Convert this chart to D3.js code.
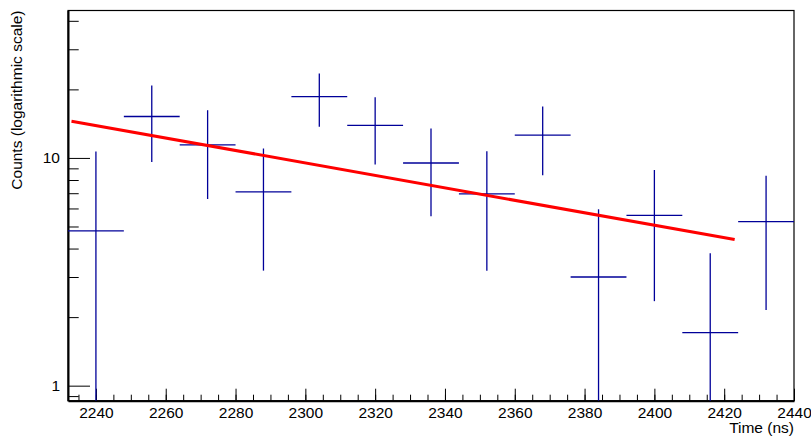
<!DOCTYPE html>
<html>
<head>
<meta charset="utf-8">
<script src="https://cdn.jsdelivr.net/npm/d3@7"></script>
<style>
body { margin: 0; background: #fff; }
text { font-family: "Liberation Sans", Arial, sans-serif; }
</style>
</head>
<body>
<div id="chart"></div>
<script>
// histogram bins (ns) and counts with errors
var binCenters = [2240, 2256, 2272, 2288, 2304, 2320, 2336, 2352, 2368, 2384, 2400, 2416, 2432];
var binWidth = 16;
var counts = [4.78, 15.2, 11.4, 7.1, 18.6, 13.9, 9.5, 6.95, 12.6, 3.0, 5.6, 1.71, 5.25];
var errors = [5.88, 5.6, 4.8, 3.9, 4.9, 4.55, 3.95, 3.75, 4.2, 2.95, 3.25, 2.1, 3.1];

// exponential fit, end points
var fitX = [2233, 2423];
var fitY = [14.5, 4.38];

// ticks
var xMajorTicks = [2240, 2260, 2280, 2300, 2320, 2340, 2360, 2380, 2400, 2420, 2440];
var yMajorTicks = [1, 10];
var yMinorTicks = [0.9, 2, 3, 4, 5, 6, 7, 8, 9, 20, 30, 40];

var W = 811, H = 439;
var frame = { left: 68, right: 794, top: 10.5, bottom: 400.7 };

var svg = d3.select("#chart")
    .append("svg")
    .attr("width", W)
    .attr("height", H);

var x = d3.scaleLinear()
    .domain([2232, 2440])
    .range([frame.left, frame.right]);

var y = d3.scaleLog()
    .domain([0.859, 44.4])
    .range([frame.bottom, frame.top]);

// frame
svg.append("rect")
    .attr("x", frame.left)
    .attr("y", frame.top)
    .attr("width", frame.right - frame.left)
    .attr("height", frame.bottom - frame.top)
    .attr("fill", "none")
    .attr("stroke", "#000")
    .attr("stroke-width", 1.2);

// x axis: minor then major
svg.append("g")
    .attr("transform", "translate(0," + frame.bottom + ")")
    .call(d3.axisBottom(x).tickValues(d3.range(2235, 2441, 5)).tickSize(-6).tickSizeOuter(0).tickFormat(""))
    .call(function(g) { g.select(".domain").remove(); });

var xAxis = svg.append("g")
    .attr("transform", "translate(0," + frame.bottom + ")")
    .call(d3.axisBottom(x).tickValues(xMajorTicks).tickSize(-12).tickSizeOuter(0).tickPadding(6).tickFormat(d3.format("d")));
xAxis.select(".domain").attr("stroke-width", 2);
xAxis.selectAll("text").attr("font-size", "15.5px").attr("fill", "#000");

// y axis
svg.append("g")
    .attr("transform", "translate(" + frame.left + ",0)")
    .call(d3.axisLeft(y).tickValues(yMinorTicks).tickSize(-10.7).tickSizeOuter(0).tickFormat(""))
    .call(function(g) { g.select(".domain").remove(); });

var yAxis = svg.append("g")
    .attr("transform", "translate(" + frame.left + ",0)")
    .call(d3.axisLeft(y).tickValues(yMajorTicks).tickSize(-22).tickSizeOuter(0).tickPadding(8).tickFormat(d3.format("d")));
yAxis.select(".domain").attr("stroke-width", 2);
yAxis.selectAll("text").attr("font-size", "15.5px").attr("fill", "#000");

// axis titles
svg.append("text")
    .attr("x", frame.right)
    .attr("y", 433)
    .attr("text-anchor", "end")
    .attr("font-size", "15.5px")
    .text("Time (ns)");

svg.append("text")
    .attr("transform", "translate(22," + frame.top + ") rotate(-90)")
    .attr("text-anchor", "end")
    .attr("font-size", "15.5px")
    .text("Counts (logarithmic scale)");

// error bars
var lo = y.domain()[0], hi = y.domain()[1];
var bars = svg.append("g")
    .attr("stroke", "#000099")
    .attr("stroke-width", 1.3);

bars.selectAll(".h")
    .data(binCenters)
    .enter()
    .append("line")
    .attr("x1", function(d) { return x(d - binWidth / 2); })
    .attr("x2", function(d) { return x(d + binWidth / 2); })
    .attr("y1", function(d, i) { return y(counts[i]); })
    .attr("y2", function(d, i) { return y(counts[i]); });

bars.selectAll(".v")
    .data(binCenters)
    .enter()
    .append("line")
    .attr("x1", function(d) { return x(d); })
    .attr("x2", function(d) { return x(d); })
    .attr("y1", function(d, i) { return y(Math.min(counts[i] + errors[i], hi)); })
    .attr("y2", function(d, i) { return y(Math.max(counts[i] - errors[i], lo)); });

// fit
svg.append("path")
    .datum(fitX.map(function(d, i) { return [d, fitY[i]]; }))
    .attr("fill", "none")
    .attr("stroke", "#ff0000")
    .attr("stroke-width", 3)
    .attr("d", d3.line()
        .x(function(d) { return x(d[0]); })
        .y(function(d) { return y(d[1]); }));
</script>
</body>
</html>
